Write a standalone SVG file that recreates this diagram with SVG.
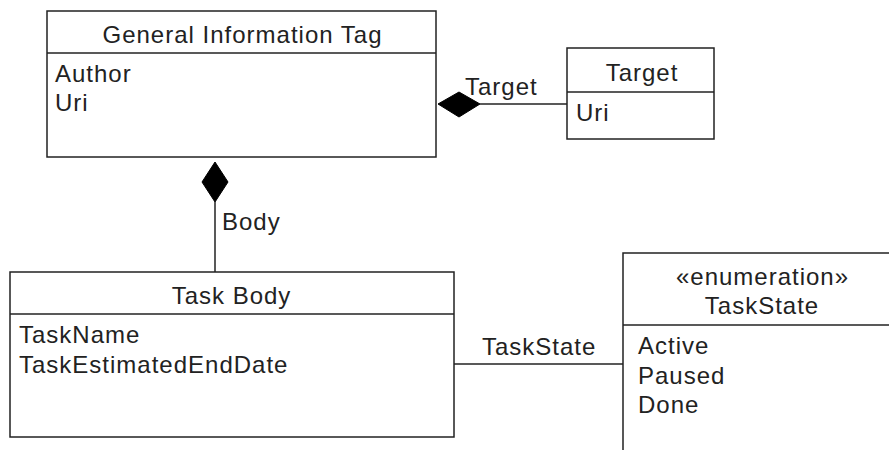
<svg xmlns="http://www.w3.org/2000/svg" width="889" height="450" viewBox="0 0 889 450">
  <style>
    .box { fill: #ffffff; stroke: #222222; stroke-width: 1.5; }
    .div { stroke: #222222; stroke-width: 1.5; }
    .txt { font-family: "Liberation Sans", Arial, sans-serif; font-size: 24px; letter-spacing: 1px; fill: #222222; }
    .mid { text-anchor: middle; }
    .conn { stroke: #222222; stroke-width: 1.5; fill: none; }
    .dia { fill: #000000; stroke: #000000; stroke-width: 1; }
  </style>
  <rect width="889" height="450" fill="#ffffff"/>

  <g id="connectors">
    <!-- Target composition -->
    <line class="conn" x1="480" y1="104" x2="567" y2="104"/>
    <polygon class="dia" points="438,104 459,92 480,104 459,117"/>
    <text class="txt" x="465" y="95">Target</text>
    <!-- Body composition -->
    <line class="conn" x1="215" y1="202" x2="215" y2="272"/>
    <polygon class="dia" points="215,162 228,182 215,202 202,182"/>
    <text class="txt" x="222" y="230">Body</text>
    <!-- TaskState association -->
    <line class="conn" x1="454" y1="364" x2="623" y2="364"/>
    <text class="txt" x="482" y="355">TaskState</text>
  </g>

  <g id="general-information-tag">
    <rect class="box" x="47" y="11" width="389" height="146"/>
    <line class="div" x1="47" y1="53" x2="436" y2="53"/>
    <text class="txt mid" x="242.5" y="43">General Information Tag</text>
    <text class="txt" x="55" y="82">Author</text>
    <text class="txt" x="55" y="111">Uri</text>
  </g>

  <g id="target">
    <rect class="box" x="567" y="48" width="147" height="91"/>
    <line class="div" x1="567" y1="92" x2="714" y2="92"/>
    <text class="txt mid" x="642" y="81">Target</text>
    <text class="txt" x="576" y="121">Uri</text>
  </g>

  <g id="task-body">
    <rect class="box" x="10" y="272" width="444" height="165"/>
    <line class="div" x1="10" y1="314" x2="454" y2="314"/>
    <text class="txt mid" x="231.5" y="304">Task Body</text>
    <text class="txt" x="19" y="343">TaskName</text>
    <text class="txt" x="19" y="373">TaskEstimatedEndDate</text>
  </g>

  <g id="task-state">
    <rect class="box" x="623" y="253" width="276" height="220"/>
    <line class="div" x1="623" y1="325" x2="899" y2="325"/>
    <text class="txt mid" x="762.5" y="285">«enumeration»</text>
    <text class="txt mid" x="762" y="314">TaskState</text>
    <text class="txt" x="638" y="354">Active</text>
    <text class="txt" x="638" y="384">Paused</text>
    <text class="txt" x="638" y="413">Done</text>
  </g>
</svg>
